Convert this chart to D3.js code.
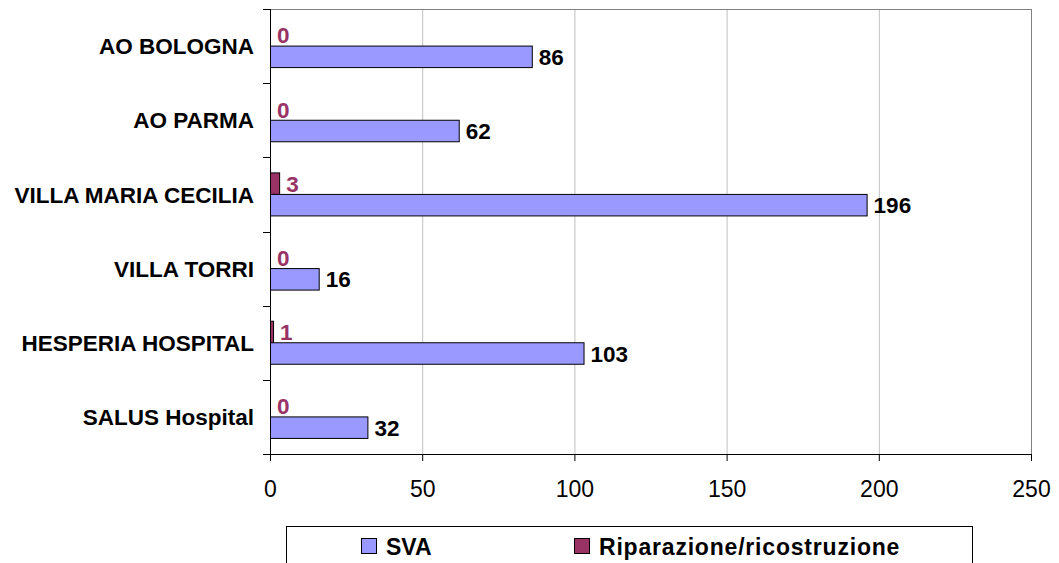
<!DOCTYPE html>
<html><head><meta charset="utf-8">
<script src="https://cdn.jsdelivr.net/npm/d3@7"></script>
<style>
body{margin:0;background:#fff;}
svg{display:block;font-family:"Liberation Sans",Arial,sans-serif;}
</style></head>
<body><svg id="c" width="1059" height="563"></svg>
<script>
const categories = ["AO BOLOGNA","AO PARMA","VILLA MARIA CECILIA","VILLA TORRI","HESPERIA HOSPITAL","SALUS Hospital"];
const svaValues = [86, 62, 196, 16, 103, 32];
const ripValues = [0, 0, 3, 0, 1, 0];
const seriesNames = ["SVA", "Riparazione/ricostruzione"];
const xTicks = [0, 50, 100, 150, 200, 250];

const svg = d3.select("#c");
const x = d3.scaleLinear().domain([0, 250]).range([270, 1031]);
const y = d3.scaleBand().domain(categories).range([9, 454]).padding(0);
const bh = y.bandwidth() * 0.29;

// gridlines
svg.append("g").selectAll("line").data(xTicks.slice(1)).join("line")
  .attr("x1", d => x(d) + 0.5).attr("x2", d => x(d) + 0.5)
  .attr("y1", 9).attr("y2", 454)
  .attr("stroke", d => d === 250 ? "#808080" : "#c0c0c0").attr("stroke-width", 1);
// top border
svg.append("line").attr("x1", x(0)).attr("x2", x(250) + 1).attr("y1", 9.5).attr("y2", 9.5)
  .attr("stroke", "#808080");

// bars
const g = svg.append("g");
g.selectAll("rect.rip").data(categories).join("rect").attr("class", "rip")
  .attr("x", x(0) + 0.5)
  .attr("y", d => y(d) + y.bandwidth() / 2 - bh)
  .attr("width", (d, i) => x(ripValues[i]) - x(0))
  .attr("height", bh)
  .attr("fill", "#993366").attr("stroke", "#000").attr("stroke-width", 1);
g.selectAll("rect.sva").data(categories).join("rect").attr("class", "sva")
  .attr("x", x(0) + 0.5)
  .attr("y", d => y(d) + y.bandwidth() / 2)
  .attr("width", (d, i) => x(svaValues[i]) - x(0))
  .attr("height", bh)
  .attr("fill", "#9999FF").attr("stroke", "#000").attr("stroke-width", 1);

// value labels
g.selectAll("text.rl").data(categories).join("text").attr("class", "rl")
  .attr("x", (d, i) => x(ripValues[i]) + 7)
  .attr("y", d => y(d) + y.bandwidth() / 2 - bh / 2)
  .attr("dy", "0.36em")
  .attr("font-size", 22.5).attr("font-weight", "bold").attr("fill", "#993366")
  .text((d, i) => ripValues[i]);
g.selectAll("text.sl").data(categories).join("text").attr("class", "sl")
  .attr("x", (d, i) => x(svaValues[i]) + 7)
  .attr("y", d => y(d) + y.bandwidth() / 2 + bh / 2)
  .attr("dy", "0.36em")
  .attr("font-size", 22.5).attr("font-weight", "bold").attr("fill", "#000")
  .text((d, i) => svaValues[i]);

// y axis
const yTickPos = categories.map(c => y(c)).concat([454]);
svg.append("line").attr("x1", 270.5).attr("x2", 270.5).attr("y1", 9).attr("y2", 454).attr("stroke", "#000");
svg.append("g").selectAll("line").data(yTickPos).join("line")
  .attr("x1", 263).attr("x2", 270).attr("y1", d => Math.round(d) + 0.5).attr("y2", d => Math.round(d) + 0.5)
  .attr("stroke", "#000");
svg.append("g").selectAll("text").data(categories).join("text")
  .attr("x", 254).attr("y", d => y(d) + y.bandwidth() / 2).attr("dy", "0.36em")
  .attr("text-anchor", "end").attr("font-size", 22.5).attr("font-weight", "bold").attr("fill", "#000")
  .text(d => d);

// x axis
const xAxis = d3.axisBottom(x).tickValues(xTicks).tickSize(7).tickPadding(20);
const xg = svg.append("g").attr("transform", "translate(0,454)").call(xAxis);
xg.select(".domain").attr("stroke", "#000").attr("d", "M263,0.5H1031");
xg.selectAll(".tick line").attr("stroke", "#000");
xg.selectAll(".tick text").attr("font-size", 23).attr("fill", "#000")
  .attr("font-family", "Liberation Sans, Arial, sans-serif");

// legend
const lg = svg.append("g");
lg.append("rect").attr("x", 286.5).attr("y", 526.5).attr("width", 686).attr("height", 60)
  .attr("fill", "#fff").attr("stroke", "#000");
const legX = [361, 574];
const legColors = ["#9999FF", "#993366"];
const legSpacing = [0, 0.8];
seriesNames.forEach((n, i) => {
  lg.append("rect").attr("x", legX[i] + 0.5).attr("y", 538.5).attr("width", 15).attr("height", 15)
    .attr("fill", legColors[i]).attr("stroke", "#000");
  lg.append("text").attr("x", legX[i] + 25).attr("y", 555)
    .attr("font-size", 23).attr("font-weight", "bold").attr("letter-spacing", legSpacing[i])
    .attr("fill", "#000").text(n);
});
</script></body></html>
